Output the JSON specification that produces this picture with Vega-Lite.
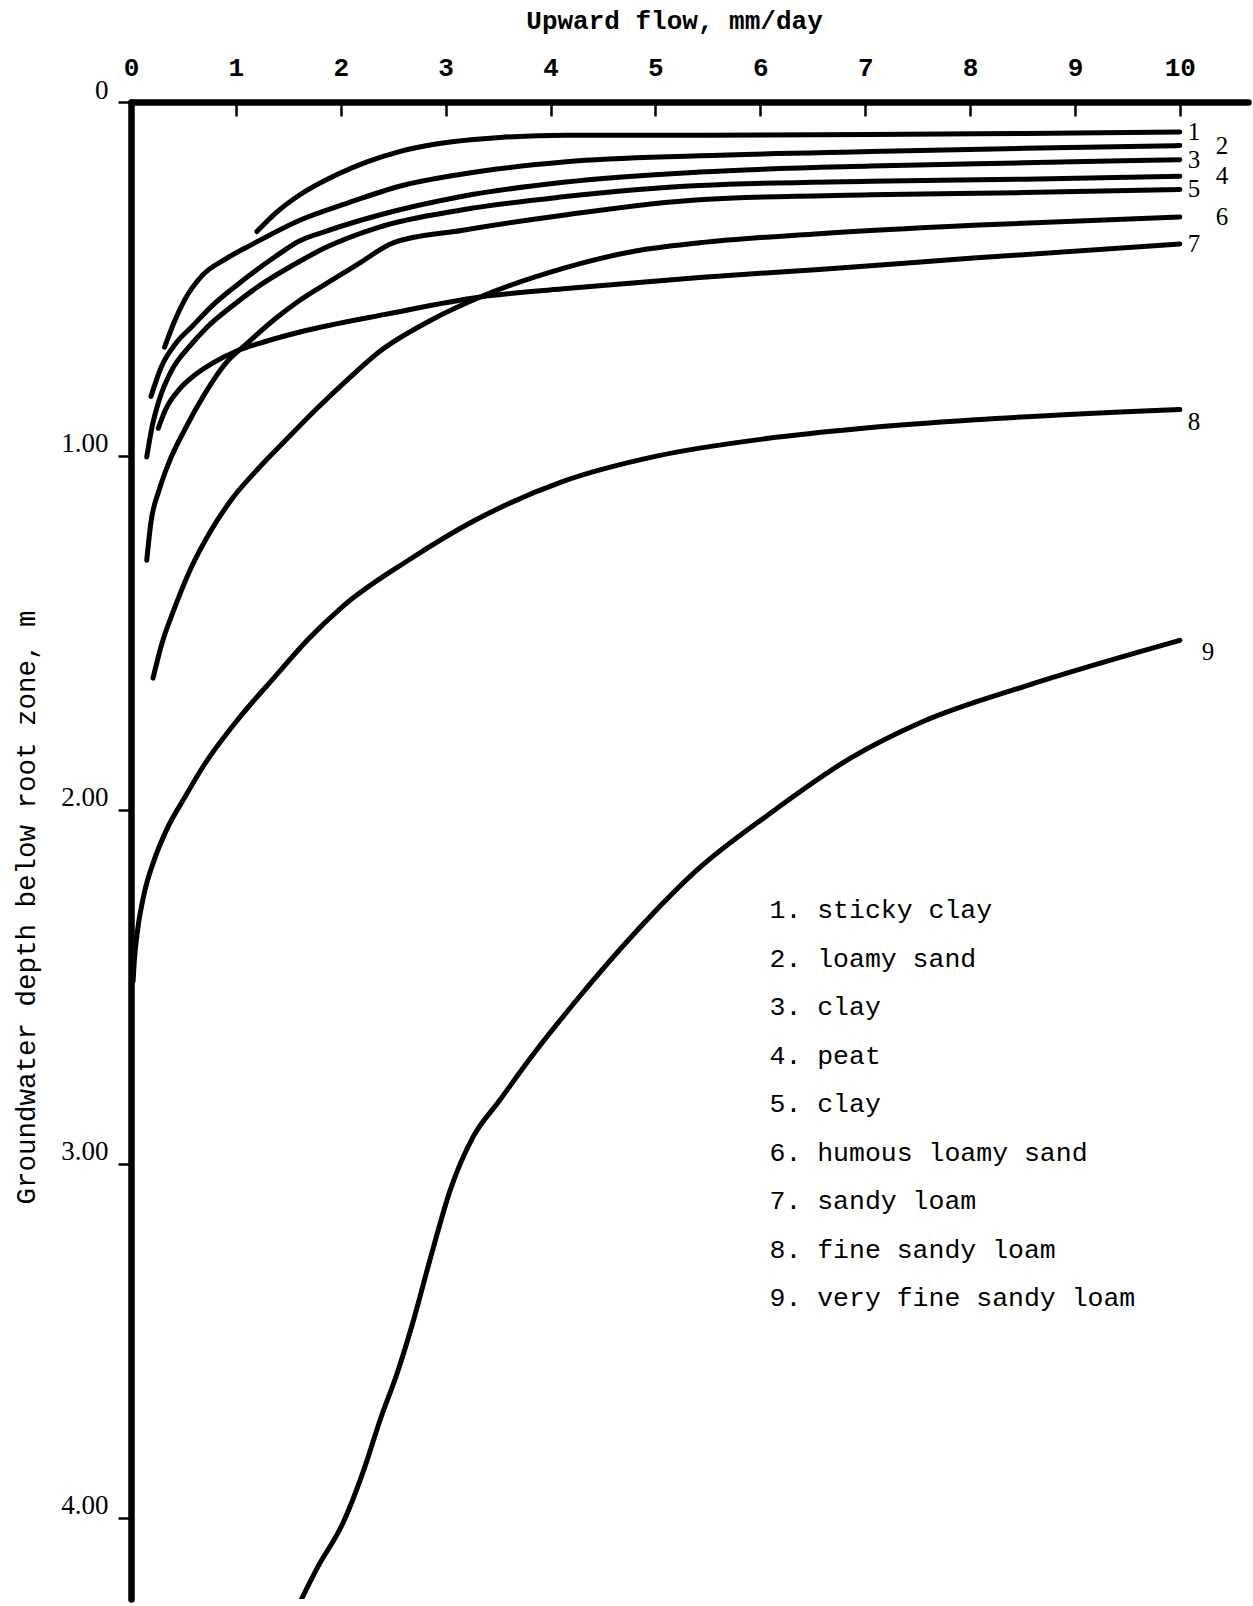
{
  "$schema": "https://vega.github.io/schema/vega-lite/v6.json",
  "autosize": {"type": "none"},
  "padding": {"left": 131, "top": 102, "right": 5, "bottom": 7},
  "width": 1117,
  "height": 1497,
  "background": "white",
  "config": {"view": {"stroke": null}},
  "datasets": {
    "soils": [
      {"c": 1, "soil": "1. sticky clay"},
      {"c": 2, "soil": "2. loamy sand"},
      {"c": 3, "soil": "3. clay"},
      {"c": 4, "soil": "4. peat"},
      {"c": 5, "soil": "5. clay"},
      {"c": 6, "soil": "6. humous loamy sand"},
      {"c": 7, "soil": "7. sandy loam"},
      {"c": 8, "soil": "8. fine sandy loam"},
      {"c": 9, "soil": "9. very fine sandy loam"}
    ],
    "curves": [
      {"c":1,"flow":1.20,"depth":0.366},{"c":1,"flow":1.39,"depth":0.311},{"c":1,"flow":1.61,"depth":0.262},{"c":1,"flow":1.97,"depth":0.204},{"c":1,"flow":2.25,"depth":0.169},{"c":1,"flow":2.56,"depth":0.140},{"c":1,"flow":2.88,"depth":0.120},{"c":1,"flow":3.52,"depth":0.100},{"c":1,"flow":4.15,"depth":0.094},{"c":1,"flow":5.42,"depth":0.094},{"c":1,"flow":7.05,"depth":0.092},{"c":1,"flow":8.52,"depth":0.089},{"c":1,"flow":10.0,"depth":0.085},
      {"c":2,"flow":0.32,"depth":0.693},{"c":2,"flow":0.41,"depth":0.623},{"c":2,"flow":0.51,"depth":0.560},{"c":2,"flow":0.68,"depth":0.490},{"c":2,"flow":0.90,"depth":0.444},{"c":2,"flow":1.15,"depth":0.403},{"c":2,"flow":1.61,"depth":0.334},{"c":2,"flow":2.07,"depth":0.285},{"c":2,"flow":2.56,"depth":0.238},{"c":2,"flow":3.15,"depth":0.204},{"c":2,"flow":4.15,"depth":0.169},{"c":2,"flow":5.42,"depth":0.152},{"c":2,"flow":7.05,"depth":0.140},{"c":2,"flow":8.52,"depth":0.131},{"c":2,"flow":10.0,"depth":0.123},
      {"c":3,"flow":0.19,"depth":0.832},{"c":3,"flow":0.29,"depth":0.748},{"c":3,"flow":0.43,"depth":0.681},{"c":3,"flow":0.58,"depth":0.635},{"c":3,"flow":0.78,"depth":0.574},{"c":3,"flow":0.99,"depth":0.522},{"c":3,"flow":1.37,"depth":0.438},{"c":3,"flow":1.61,"depth":0.392},{"c":3,"flow":1.85,"depth":0.366},{"c":3,"flow":2.36,"depth":0.320},{"c":3,"flow":3.15,"depth":0.267},{"c":3,"flow":4.12,"depth":0.227},{"c":3,"flow":5.42,"depth":0.198},{"c":3,"flow":7.05,"depth":0.181},{"c":3,"flow":8.52,"depth":0.172},{"c":3,"flow":10.0,"depth":0.163},
      {"c":4,"flow":0.15,"depth":1.003},{"c":4,"flow":0.20,"depth":0.919},{"c":4,"flow":0.27,"depth":0.841},{"c":4,"flow":0.39,"depth":0.757},{"c":4,"flow":0.56,"depth":0.690},{"c":4,"flow":0.73,"depth":0.635},{"c":4,"flow":0.95,"depth":0.580},{"c":4,"flow":1.21,"depth":0.522},{"c":4,"flow":1.61,"depth":0.450},{"c":4,"flow":1.85,"depth":0.412},{"c":4,"flow":2.36,"depth":0.354},{"c":4,"flow":3.15,"depth":0.305},{"c":4,"flow":4.12,"depth":0.268},{"c":4,"flow":5.42,"depth":0.236},{"c":4,"flow":7.05,"depth":0.224},{"c":4,"flow":8.52,"depth":0.218},{"c":4,"flow":10.0,"depth":0.210},
      {"c":5,"flow":0.15,"depth":1.295},{"c":5,"flow":0.19,"depth":1.188},{"c":5,"flow":0.27,"depth":1.095},{"c":5,"flow":0.36,"depth":1.020},{"c":5,"flow":0.51,"depth":0.927},{"c":5,"flow":0.70,"depth":0.826},{"c":5,"flow":0.90,"depth":0.739},{"c":5,"flow":1.11,"depth":0.681},{"c":5,"flow":1.39,"depth":0.609},{"c":5,"flow":1.61,"depth":0.560},{"c":5,"flow":1.85,"depth":0.515},{"c":5,"flow":2.17,"depth":0.457},{"c":5,"flow":2.50,"depth":0.398},{"c":5,"flow":3.15,"depth":0.363},{"c":5,"flow":4.12,"depth":0.320},{"c":5,"flow":5.42,"depth":0.276},{"c":5,"flow":7.05,"depth":0.262},{"c":5,"flow":8.52,"depth":0.256},{"c":5,"flow":10.0,"depth":0.247},
      {"c":6,"flow":0.21,"depth":1.628},{"c":6,"flow":0.29,"depth":1.535},{"c":6,"flow":0.41,"depth":1.434},{"c":6,"flow":0.57,"depth":1.318},{"c":6,"flow":0.75,"depth":1.217},{"c":6,"flow":0.98,"depth":1.115},{"c":6,"flow":1.21,"depth":1.037},{"c":6,"flow":1.49,"depth":0.951},{"c":6,"flow":1.78,"depth":0.864},{"c":6,"flow":2.07,"depth":0.783},{"c":6,"flow":2.37,"depth":0.705},{"c":6,"flow":2.85,"depth":0.618},{"c":6,"flow":3.33,"depth":0.551},{"c":6,"flow":4.12,"depth":0.470},{"c":6,"flow":4.81,"depth":0.421},{"c":6,"flow":5.42,"depth":0.398},{"c":6,"flow":6.56,"depth":0.372},{"c":6,"flow":8.03,"depth":0.348},{"c":6,"flow":10.0,"depth":0.325},
      {"c":7,"flow":0.26,"depth":0.922},{"c":7,"flow":0.33,"depth":0.869},{"c":7,"flow":0.46,"depth":0.812},{"c":7,"flow":0.61,"depth":0.771},{"c":7,"flow":0.77,"depth":0.739},{"c":7,"flow":1.02,"depth":0.702},{"c":7,"flow":1.29,"depth":0.676},{"c":7,"flow":1.61,"depth":0.650},{"c":7,"flow":2.46,"depth":0.598},{"c":7,"flow":3.33,"depth":0.551},{"c":7,"flow":4.12,"depth":0.528},{"c":7,"flow":5.42,"depth":0.496},{"c":7,"flow":6.56,"depth":0.473},{"c":7,"flow":8.03,"depth":0.441},{"c":7,"flow":10.0,"depth":0.401},
      {"c":8,"flow":0.02,"depth":2.485},{"c":8,"flow":0.03,"depth":2.433},{"c":8,"flow":0.06,"depth":2.346},{"c":8,"flow":0.12,"depth":2.244},{"c":8,"flow":0.22,"depth":2.143},{"c":8,"flow":0.34,"depth":2.056},{"c":8,"flow":0.51,"depth":1.966},{"c":8,"flow":0.70,"depth":1.872},{"c":8,"flow":1.00,"depth":1.752},{"c":8,"flow":1.39,"depth":1.618},{"c":8,"flow":1.68,"depth":1.521},{"c":8,"flow":2.02,"depth":1.425},{"c":8,"flow":2.66,"depth":1.292},{"c":8,"flow":3.28,"depth":1.182},{"c":8,"flow":4.12,"depth":1.072},{"c":8,"flow":5.02,"depth":1.000},{"c":8,"flow":6.06,"depth":0.951},{"c":8,"flow":6.98,"depth":0.922},{"c":8,"flow":8.05,"depth":0.898},{"c":8,"flow":10.0,"depth":0.869},
      {"c":9,"flow":1.56,"depth":4.270},{"c":9,"flow":1.78,"depth":4.140},{"c":9,"flow":2.02,"depth":4.016},{"c":9,"flow":2.22,"depth":3.865},{"c":9,"flow":2.38,"depth":3.720},{"c":9,"flow":2.54,"depth":3.590},{"c":9,"flow":2.69,"depth":3.446},{"c":9,"flow":2.85,"depth":3.272},{"c":9,"flow":3.05,"depth":3.069},{"c":9,"flow":3.26,"depth":2.925},{"c":9,"flow":3.51,"depth":2.823},{"c":9,"flow":3.83,"depth":2.693},{"c":9,"flow":4.22,"depth":2.548},{"c":9,"flow":4.81,"depth":2.346},{"c":9,"flow":5.39,"depth":2.172},{"c":9,"flow":6.08,"depth":2.013},{"c":9,"flow":6.86,"depth":1.854},{"c":9,"flow":7.54,"depth":1.752},{"c":9,"flow":8.52,"depth":1.651},{"c":9,"flow":10.0,"depth":1.521}
    ]
  },
  "data": {"name": "curves"},
  "transform": [
    {"lookup": "c", "from": {"data": {"name": "soils"}, "key": "c", "fields": ["soil"]}}
  ],
  "encoding": {
    "x": {
      "field": "flow", "type": "quantitative",
      "scale": {"domain": [0, 10.65], "nice": false, "zero": false},
      "axis": {
        "orient": "top", "values": [0,1,2,3,4,5,6,7,8,9,10], "grid": false,
        "title": "Upward flow, mm/day", "titleFont": "Liberation Mono", "titleFontWeight": "bold",
        "titleFontSize": 26, "titleColor": "black", "titleX": 543, "titleY": -82,
        "titleBaseline": "middle", "titleAlign": "center",
        "domainColor": "black", "domainWidth": 6.5, "domainCap": "round",
        "tickColor": "black", "tickWidth": 2.5, "tickSize": -14,
        "labelPadding": 36, "labelFont": "Liberation Mono", "labelFontSize": 26, "labelFontWeight": "bold",
        "labelColor": "black", "labelFlush": false, "labelOverlap": false
      }
    },
    "y": {
      "field": "depth", "type": "quantitative",
      "scale": {"domain": [0, 4.23], "nice": false, "zero": false, "reverse": true},
      "axis": {
        "orient": "left", "values": [0,1,2,3,4], "grid": false,
        "labelExpr": "datum.value == 0 ? '0' : format(datum.value, '.2f')",
        "title": "Groundwater depth below root zone,  m", "titleFont": "Liberation Mono",
        "titleFontSize": 27.5, "titleFontWeight": "normal", "titleColor": "black",
        "titleX": -105, "titleY": 805, "titleAngle": -90, "titleBaseline": "middle", "titleAlign": "center",
        "domainColor": "black", "domainWidth": 6.5, "domainCap": "round",
        "tickColor": "black", "tickWidth": 2.5, "tickSize": 13,
        "labelPadding": 10, "labelFont": "Liberation Serif", "labelFontSize": 27,
        "labelColor": "black", "labelBaseline": "alphabetic", "labelOffset": -4,
        "labelFlush": false, "labelOverlap": false
      }
    }
  },
  "layer": [
    {
      "mark": {"type": "line", "strokeWidth": 5, "strokeCap": "round", "strokeJoin": "round", "interpolate": "monotone", "clip": true},
      "encoding": {
        "detail": {"field": "c", "type": "nominal"},
        "color": {
          "field": "soil", "type": "nominal",
          "scale": {"range": ["black"]},
          "legend": {
            "title": null, "orient": "none", "legendX": 612, "legendY": 795,
            "symbolSize": 0, "symbolStrokeWidth": 0, "symbolOpacity": 0,
            "labelFont": "Liberation Mono", "labelFontSize": 26.5, "labelColor": "black",
            "labelOffset": 0, "rowPadding": 21.5, "padding": 0, "labelLimit": 0
          }
        }
      }
    },
    {
      "transform": [
        {"joinaggregate": [{"op": "max", "field": "flow", "as": "maxf"}], "groupby": ["c"]},
        {"filter": "datum.flow == datum.maxf && indexof([1,3,5,7], datum.c) >= 0"}
      ],
      "mark": {"type": "text", "font": "Liberation Serif", "fontSize": 25, "color": "black", "align": "left", "baseline": "middle", "dx": 8, "dy": 0},
      "encoding": {"text": {"field": "c", "type": "nominal"}}
    },
    {
      "transform": [
        {"joinaggregate": [{"op": "max", "field": "flow", "as": "maxf"}], "groupby": ["c"]},
        {"filter": "datum.flow == datum.maxf && indexof([2,4,6], datum.c) >= 0"}
      ],
      "mark": {"type": "text", "font": "Liberation Serif", "fontSize": 25, "color": "black", "align": "left", "baseline": "middle", "dx": 36, "dy": 0},
      "encoding": {"text": {"field": "c", "type": "nominal"}}
    },
    {
      "transform": [
        {"joinaggregate": [{"op": "max", "field": "flow", "as": "maxf"}], "groupby": ["c"]},
        {"filter": "datum.flow == datum.maxf && datum.c == 8"}
      ],
      "mark": {"type": "text", "font": "Liberation Serif", "fontSize": 25, "color": "black", "align": "left", "baseline": "middle", "dx": 8, "dy": 12},
      "encoding": {"text": {"field": "c", "type": "nominal"}}
    },
    {
      "transform": [
        {"joinaggregate": [{"op": "max", "field": "flow", "as": "maxf"}], "groupby": ["c"]},
        {"filter": "datum.flow == datum.maxf && datum.c == 9"}
      ],
      "mark": {"type": "text", "font": "Liberation Serif", "fontSize": 25, "color": "black", "align": "left", "baseline": "middle", "dx": 22, "dy": 12},
      "encoding": {"text": {"field": "c", "type": "nominal"}}
    }
  ]
}
